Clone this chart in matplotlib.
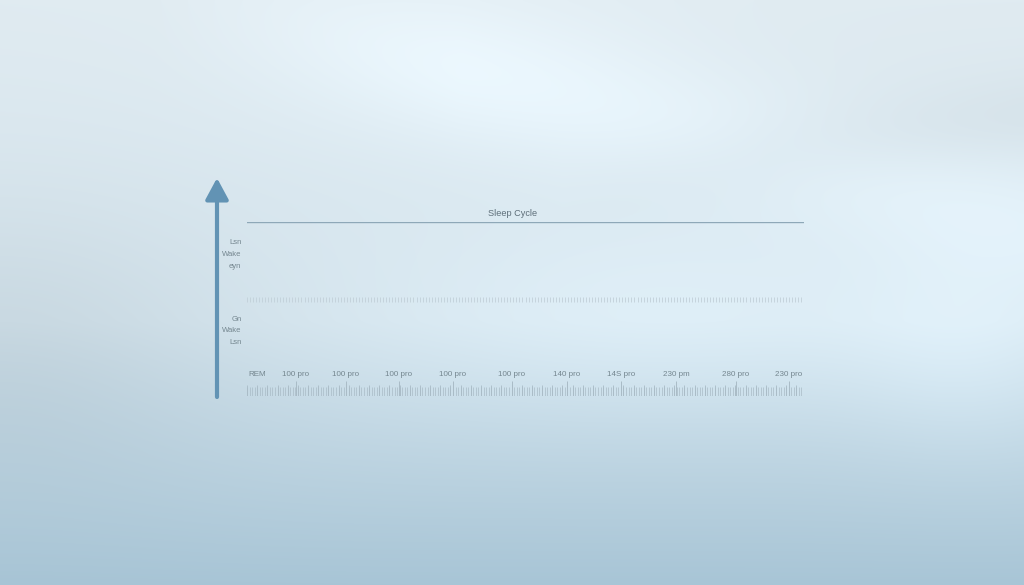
import numpy as np
import matplotlib
matplotlib.use("Agg")
import matplotlib.pyplot as plt

# ---- chart text / data ----
title = "Sleep Cycle"
x_tick_labels = ["REM", "100 pro", "100 pro", "100 pro", "100 pro", "100 pro",
                 "140 pro", "14S pro", "230 pm", "280 pro", "230 pro"]
y_group_upper = ["Lsn", "Wake", "eyn"]
y_group_lower = ["Gn", "Wake", "Lsn"]

# layout (pixel x-centres of the label row)
label_px = [257, 296, 346, 399, 453, 512, 567, 621, 676, 736, 789]

W, H = 1024, 585
fig = plt.figure(figsize=(W / 100, H / 100), dpi=100)
FONT = ["Liberation Sans", "DejaVu Sans"]

# ---- background gradient ----
bg = fig.add_axes([0, 0, 1, 1])
bg.set_axis_off()
yy, xx = np.mgrid[0:1:300j, 0:1:520j]
top = np.array([224, 235, 241]) / 255
mid = np.array([212, 228, 237]) / 255
bot = np.array([168, 197, 214]) / 255
t1 = np.clip(yy / 0.55, 0, 1)
t2 = np.clip((yy - 0.55) / 0.45, 0, 1)
img = np.where((yy < 0.55)[..., None],
               top * (1 - t1[..., None]) + mid * t1[..., None],
               mid * (1 - t2[..., None]) + bot * t2[..., None])
band = np.exp(-((yy - (0.08 + 0.45 * (xx - 0.35))) ** 2) / 0.015) * \
    np.clip((xx - 0.15) / 0.3, 0, 1) * 0.035
glow = np.exp(-(((xx - 0.65) / 0.3) ** 2 + ((yy - 0.55) / 0.18) ** 2)) * 0.04
glow2 = np.exp(-(((xx - 0.45) / 0.25) ** 2 + ((yy - 0.12) / 0.18) ** 2)) * 0.02
glow3 = np.exp(-(((xx - 0.95) / 0.12) ** 2 + ((yy - 0.6) / 0.2) ** 2)) * 0.035
left = np.exp(-((xx / 0.22) ** 2 + ((yy - 0.6) / 0.25) ** 2)) * 0.045
rdark = np.exp(-((yy - (0.3 - 0.25 * (xx - 0.6))) ** 2) / 0.006) * \
    np.clip((xx - 0.55) / 0.2, 0, 1) * 0.022
img = img + (band + glow + glow2 + glow3 - left - rdark)[..., None]
img = np.clip(img, 0, 1)
bg.imshow(img, extent=[0, 1, 0, 1], aspect="auto", origin="upper",
          interpolation="bicubic")
bg.set_xlim(0, 1)
bg.set_ylim(0, 1)

# ---- vertical arrow ----
bg.annotate("", xy=(217 / W, 1 - 178 / H), xytext=(217 / W, 1 - 397 / H),
            arrowprops=dict(arrowstyle="-|>,head_width=0.7,head_length=1.3",
                            color="#6293b4", lw=3, shrinkA=0, shrinkB=0))

# ---- inner chart axes (pixel-like x scale) ----
x0, x1 = 247, 804
ax = fig.add_axes([x0 / W, 1 - 396 / H, (x1 - x0) / W, (396 - 222) / H])
ax.set_axis_off()
ax.patch.set_alpha(0)
ax.set_xlim(x0, x1)
ax.set_ylim(0, 1)

# top line + title
ax.plot([x0, x1], [1, 1], color="#8ea8b8", lw=1.0)
ax.text(0.477, 1.025, title, transform=ax.transAxes, ha="center", va="bottom",
        fontsize=6.6, color="#5d6e79", family=FONT)

# dotted middle line (small vertical ticks)
xs = np.linspace(x0, x1, 185)
ax.vlines(xs, 0.54, 0.57, color="#c2d0d9", lw=0.6)

# x labels
for px, lab in zip(label_px, x_tick_labels):
    ax.text(px, 0.126, lab, ha="center", va="center", fontsize=5.8,
            color="#74868f", family=FONT)

# ruler
rx = np.linspace(x0, x1, 220)
ax.vlines(rx, 0.0, 0.05, color="#a9bbc6", lw=0.5)
ax.vlines(rx[::4], 0.0, 0.065, color="#a9bbc6", lw=0.6)
ax.vlines(label_px[1:], 0.0, 0.085, color="#a9bbc6", lw=0.7)

# y group labels
for k, lab in enumerate(y_group_upper):
    ax.text(-0.01, 0.885 - k * 0.07, lab, transform=ax.transAxes, ha="right",
            va="center", fontsize=5.5, color="#74868f", family=FONT)
for k, lab in enumerate(y_group_lower):
    ax.text(-0.01, 0.44 - k * 0.065, lab, transform=ax.transAxes, ha="right",
            va="center", fontsize=5.5, color="#74868f", family=FONT)

fig.savefig("out.png", dpi=100)
